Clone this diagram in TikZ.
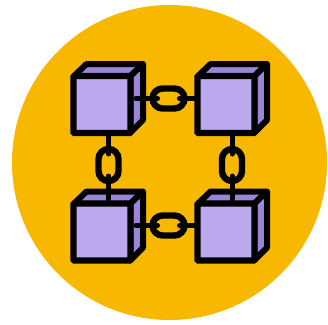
\documentclass[tikz,border=0pt]{standalone}
\definecolor{disc}{HTML}{F9B800}
\definecolor{frontc}{HTML}{BCA8EE}
\definecolor{sidec}{HTML}{9B85D9}
\tikzset{
  front/.style={draw=black,fill=frontc,line width=6.4pt,rounded corners=1pt,minimum width=57pt,minimum height=57pt,inner sep=0pt,outer sep=0pt},
  sideface/.style={draw=black,fill=sidec,line width=6pt,line join=round},
  hlink/.style={draw=black,line width=6.4pt,rounded corners=10pt,minimum width=32pt,minimum height=20pt,inner sep=0pt,outer sep=0pt},
  vlink/.style={draw=black,line width=6.4pt,rounded corners=10pt,minimum width=20pt,minimum height=32pt,inner sep=0pt,outer sep=0pt},
  conn/.style={draw=black,line width=5pt,line cap=round},
  pics/cube/.style={code={
    \path[sideface] (-28.25,-28.25)--(-15.5,-40.5)--(41,-40.5)--(28.25,-28.25)--cycle;
    \path[sideface] (28.25,-28.25)--(41,-40.5)--(41,15.5)--(28.25,28.25)--cycle;
  }}
}
\begin{document}
\begin{tikzpicture}[x=1pt,y=-1pt]
\useasboundingbox (0,0) rectangle (328,324);
\fill[white] (0,0) rectangle (328,324);
\fill[disc] (169.5,162.5) circle (157.5);
% cube faces behind the fronts
\pic at (102,104.5) {cube};
\pic at (226,104.5) {cube};
\pic at (102,232) {cube};
\pic at (226,232) {cube};
% links
\node[hlink] (lt) at (168.5,98.5) {};
\node[hlink] (lb) at (168.5,225.5) {};
\node[vlink] (ll) at (108.5,165) {};
\node[vlink] (lr) at (232,165) {};
% connectors
\coordinate (a1) at (136,98.5);
\coordinate (a2) at (198,98.5);
\coordinate (b1) at (136,225.5);
\coordinate (b2) at (198,225.5);
\coordinate (c1) at (108.5,199);
\coordinate (c2) at (232,199);
\coordinate (d1) at (108.5,136);
\coordinate (d2) at (232,136);
\draw[conn] (a1) -- ([xshift=5pt]lt.west);
\draw[conn] (a2) -- ([xshift=-5pt]lt.east);
\draw[conn] (b1) -- ([xshift=5pt]lb.west);
\draw[conn] (b2) -- ([xshift=-5pt]lb.east);
\draw[conn] (d1) -- ([yshift=-5pt]ll.north);
\draw[conn] (c1) -- ([yshift=5pt]ll.south);
\draw[conn] (d2) -- ([yshift=-5pt]lr.north);
\draw[conn] (c2) -- ([yshift=5pt]lr.south);
% fronts
\node[front] (n1) at (102,104.5) {};
\node[front] (n2) at (226,104.5) {};
\node[front] (n3) at (102,232) {};
\node[front] (n4) at (226,232) {};
\end{tikzpicture}
\end{document}
